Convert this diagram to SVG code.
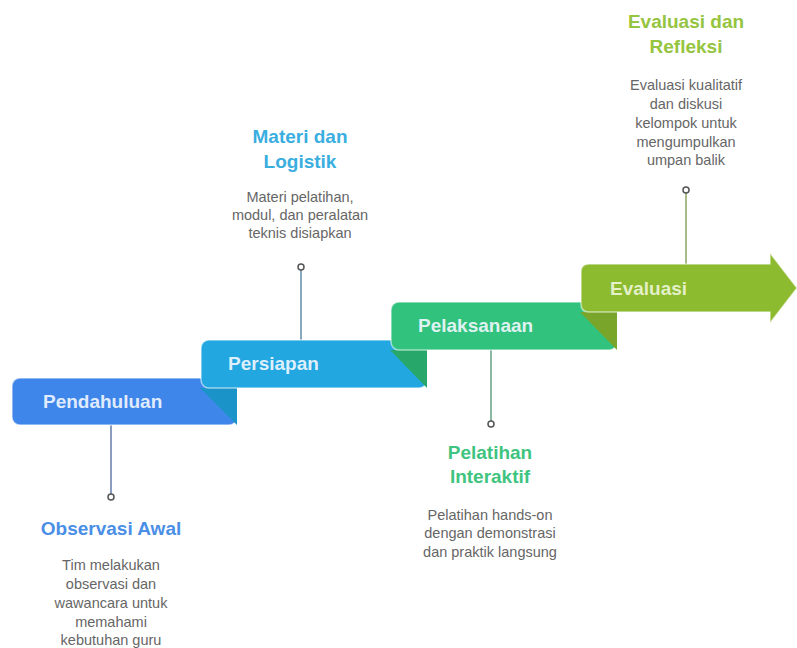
<svg xmlns="http://www.w3.org/2000/svg" width="797" height="648" viewBox="0 0 797 648">
<style>
.step{stroke:#ffffff;stroke-opacity:0.55;stroke-width:1.5}
.lbl{font-family:"Liberation Sans",Arial,sans-serif;font-weight:bold;font-size:19px;fill:#f1f7ff;fill-opacity:0.92}
.ttl{font-family:"Liberation Sans",Arial,sans-serif;font-weight:bold;font-size:19px;text-anchor:middle}
.dsc{font-family:"Liberation Sans",Arial,sans-serif;font-size:14.5px;fill:#666666;text-anchor:middle}
.conn{stroke-width:2;fill:none}
.dot{fill:#ffffff;stroke:#555555;stroke-width:1.5}
</style>
<rect width="797" height="648" fill="#ffffff"/>
<g id="connectors">
<line class="conn" x1="111" y1="425" x2="111" y2="494" stroke="#8a9cc0"/>
<circle class="dot" cx="111" cy="497" r="3"/>
<line class="conn" x1="301" y1="340" x2="301" y2="270" stroke="#8aa8bc"/>
<circle class="dot" cx="301" cy="267" r="3"/>
<line class="conn" x1="491" y1="350" x2="491" y2="421" stroke="#8ab8a0"/>
<circle class="dot" cx="491" cy="424" r="3"/>
<line class="conn" x1="686" y1="264" x2="686" y2="193" stroke="#a8bc88"/>
<circle class="dot" cx="686" cy="190" r="3"/>
</g>
<g id="step-pendahuluan">
<rect class="step" x="12" y="378" width="225" height="47" rx="8" fill="#3f86ea"/>
<text class="lbl" x="43" y="408">Pendahuluan</text>
</g>
<g id="step-persiapan">
<polygon points="200,388 237,388 237,425" fill="#1a93c8"/>
<rect class="step" x="201" y="340" width="226" height="48" rx="8" fill="#22a7e0"/>
<text class="lbl" x="228" y="370">Persiapan</text>
</g>
<g id="step-pelaksanaan">
<polygon points="390,350 427,350 427,388" fill="#27a86a"/>
<rect class="step" x="391" y="302" width="226" height="48" rx="8" fill="#31c27e"/>
<text class="lbl" x="418" y="332">Pelaksanaan</text>
</g>
<g id="step-evaluasi">
<polygon points="580,312 617,312 617,350" fill="#79a52a"/>
<path class="step" d="M589,264 H770 V253 L797,288 L770,323 V312 H589 Q581,312 581,304 V272 Q581,264 589,264 Z" fill="#8dbb30"/>
<text class="lbl" x="610" y="295" style="fill:#eef6d8">Evaluasi</text>
</g>
<g id="label-observasi">
<text class="ttl" x="111" y="535" fill="#4a8ee6">Observasi Awal</text>
<text class="dsc" x="111" y="570">Tim melakukan</text>
<text class="dsc" x="111" y="589">observasi dan</text>
<text class="dsc" x="111" y="608">wawancara untuk</text>
<text class="dsc" x="111" y="627">memahami</text>
<text class="dsc" x="111" y="645">kebutuhan guru</text>
</g>
<g id="label-materi">
<text class="ttl" x="300" y="143" fill="#3aaedf">Materi dan</text>
<text class="ttl" x="300" y="168" fill="#3aaedf">Logistik</text>
<text class="dsc" x="300" y="202">Materi pelatihan,</text>
<text class="dsc" x="300" y="220">modul, dan peralatan</text>
<text class="dsc" x="300" y="238">teknis disiapkan</text>
</g>
<g id="label-pelatihan">
<text class="ttl" x="490" y="459" fill="#3fc47f">Pelatihan</text>
<text class="ttl" x="490" y="483" fill="#3fc47f">Interaktif</text>
<text class="dsc" x="490" y="520">Pelatihan hands-on</text>
<text class="dsc" x="490" y="538">dengan demonstrasi</text>
<text class="dsc" x="490" y="557">dan praktik langsung</text>
</g>
<g id="label-evaluasi">
<text class="ttl" x="686" y="28" fill="#95c43f">Evaluasi dan</text>
<text class="ttl" x="686" y="53" fill="#95c43f">Refleksi</text>
<text class="dsc" x="686" y="90">Evaluasi kualitatif</text>
<text class="dsc" x="686" y="109">dan diskusi</text>
<text class="dsc" x="686" y="128">kelompok untuk</text>
<text class="dsc" x="686" y="147">mengumpulkan</text>
<text class="dsc" x="686" y="165">umpan balik</text>
</g>
</svg>
